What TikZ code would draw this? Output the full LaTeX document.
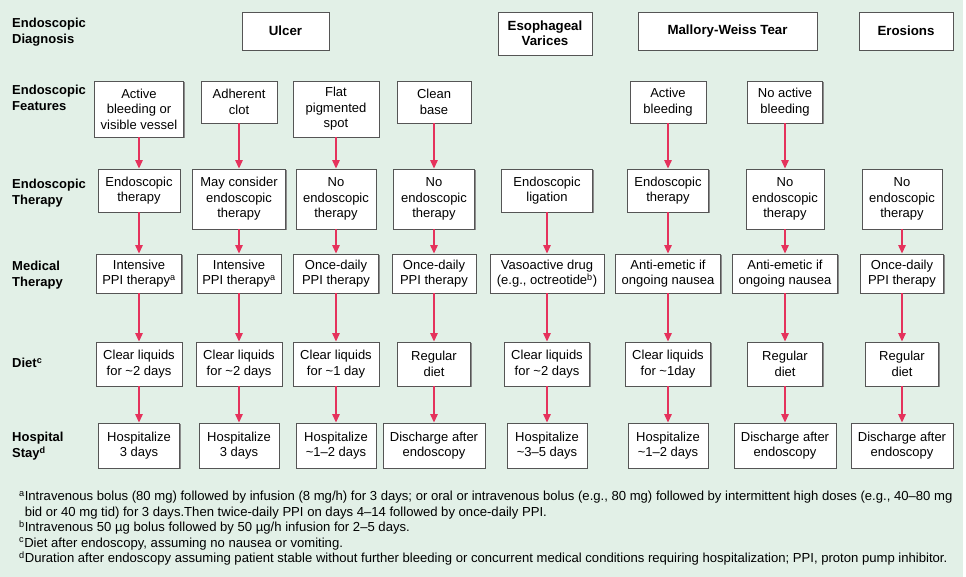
\documentclass[tikz,border=0pt]{standalone}
\usepackage{fontspec}
\setmainfont{Liberation Sans}
\newfontfamily\notefont[Ligatures=TeX]{Liberation Sans}
\usetikzlibrary{arrows.meta,shadows}
\definecolor{bggreen}{RGB}{226,240,231}
\definecolor{arrowred}{RGB}{229,50,92}
\definecolor{boxline}{RGB}{85,85,85}

\begin{document}
\begin{tikzpicture}[
  x=1pt,
  y=-1pt,
  >={Triangle[width=7.5pt,length=8.5pt]},
  every node/.style={font=\fontsize{13}{15.5}\selectfont},
  cell/.style={draw=boxline, line width=0.9pt, fill=white, rectangle, align=center, inner sep=1pt,
    drop shadow={shadow xshift=1.3pt, shadow yshift=-1.3pt, fill=black!45, opacity=1}},
  head/.style={cell, font=\fontsize{13.3}{15.5}\selectfont\bfseries},
  rowlabel/.style={anchor=west, align=left, inner sep=0pt, font=\fontsize{13}{16}\selectfont\bfseries},
  flow/.style={->, draw=arrowred, line width=1.3pt, fill=arrowred}
]
\useasboundingbox (0,0) rectangle (966,577);
\fill[bggreen] (0,0) rectangle (963,577);

% row labels
\node[rowlabel] (lDiag) at (12,32.5) {Endoscopic\\Diagnosis};
\node[rowlabel] (lFeat) at (12,98) {Endoscopic\\Features};
\node[rowlabel] (lTher) at (12,193.5) {Endoscopic\\Therapy};
\node[rowlabel] (lMed) at (12,275) {Medical\\Therapy};
\node[rowlabel] (lDiet) at (12,363) {Diet\textsuperscript{c}};
\node[rowlabel] (lStay) at (12,446) {Hospital\\Stay\textsuperscript{d}};

% diagnosis
\node[head, minimum width=87, minimum height=38] (ulcer) at (285.5,31) {Ulcer};
\node[head, minimum width=94, minimum height=43] (varices) at (545,33.5) {Esophageal\\Varices};
\node[head, minimum width=179, minimum height=38] (mwt) at (727.5,31) {Mallory-Weiss Tear};
\node[head, minimum width=94, minimum height=38] (erosions) at (906,31) {Erosions};

% features
\node[cell, minimum width=89, minimum height=56] (feat1) at (139,109) {Active\\bleeding or\\visible vessel};
\node[cell, minimum width=76, minimum height=42] (feat2) at (239,102) {Adherent\\clot};
\node[cell, minimum width=86, minimum height=56] (feat3) at (336,109) {Flat\\pigmented\\spot};
\node[cell, minimum width=74, minimum height=42] (feat4) at (434,102) {Clean\\base};
\node[cell, minimum width=76, minimum height=42] (feat6) at (668,102) {Active\\bleeding};
\node[cell, minimum width=75, minimum height=42] (feat7) at (785,102) {No active\\bleeding};

% endoscopic therapy
\node[cell, minimum width=82, minimum height=43] (ther1) at (139,190.5) {Endoscopic\\therapy};
\node[cell, minimum width=93, minimum height=60] (ther2) at (239,199) {May consider\\endoscopic\\therapy};
\node[cell, minimum width=80, minimum height=60] (ther3) at (336,199) {No\\endoscopic\\therapy};
\node[cell, minimum width=81, minimum height=60] (ther4) at (434,199) {No\\endoscopic\\therapy};
\node[cell, minimum width=91, minimum height=43] (ther5) at (547,190.5) {Endoscopic\\ligation};
\node[cell, minimum width=81, minimum height=43] (ther6) at (668,190.5) {Endoscopic\\therapy};
\node[cell, minimum width=78, minimum height=60] (ther7) at (785,199) {No\\endoscopic\\therapy};
\node[cell, minimum width=80, minimum height=60] (ther8) at (902,199) {No\\endoscopic\\therapy};

% medical therapy
\node[cell, minimum width=85, minimum height=39] (med1) at (139,273.5) {Intensive\\PPI therapy\textsuperscript{a}};
\node[cell, minimum width=84, minimum height=39] (med2) at (239,273.5) {Intensive\\PPI therapy\textsuperscript{a}};
\node[cell, minimum width=85, minimum height=39] (med3) at (336,273.5) {Once-daily\\PPI therapy};
\node[cell, minimum width=84, minimum height=39] (med4) at (434,273.5) {Once-daily\\PPI therapy};
\node[cell, minimum width=114, minimum height=39] (med5) at (547,273.5) {Vasoactive drug\\(e.g., octreotide\textsuperscript{b})};
\node[cell, minimum width=105, minimum height=39] (med6) at (668,273.5) {Anti-emetic if\\ongoing nausea};
\node[cell, minimum width=105, minimum height=39] (med7) at (785,273.5) {Anti-emetic if\\ongoing nausea};
\node[cell, minimum width=83, minimum height=39] (med8) at (902,273.5) {Once-daily\\PPI therapy};

% diet
\node[cell, minimum width=86, minimum height=44] (diet1) at (139,364) {Clear liquids\\for \textasciitilde2 days};
\node[cell, minimum width=86, minimum height=44] (diet2) at (239,364) {Clear liquids\\for \textasciitilde2 days};
\node[cell, minimum width=86, minimum height=44] (diet3) at (336,364) {Clear liquids\\for \textasciitilde1 day};
\node[cell, minimum width=73, minimum height=44] (diet4) at (434,364) {Regular\\diet};
\node[cell, minimum width=85, minimum height=44] (diet5) at (547,364) {Clear liquids\\for \textasciitilde2 days};
\node[cell, minimum width=85, minimum height=44] (diet6) at (668,364) {Clear liquids\\for \textasciitilde1day};
\node[cell, minimum width=75, minimum height=44] (diet7) at (785,364) {Regular\\diet};
\node[cell, minimum width=73, minimum height=44] (diet8) at (902,364) {Regular\\diet};

% hospital stay
\node[cell, minimum width=81, minimum height=45] (stay1) at (139,445.5) {Hospitalize\\3 days};
\node[cell, minimum width=80, minimum height=45] (stay2) at (239,445.5) {Hospitalize\\3 days};
\node[cell, minimum width=80, minimum height=45] (stay3) at (336,445.5) {Hospitalize\\\textasciitilde1--2 days};
\node[cell, minimum width=102, minimum height=45] (stay4) at (434,445.5) {Discharge after\\endoscopy};
\node[cell, minimum width=80, minimum height=45] (stay5) at (547,445.5) {Hospitalize\\\textasciitilde3--5 days};
\node[cell, minimum width=80, minimum height=45] (stay6) at (668,445.5) {Hospitalize\\\textasciitilde1--2 days};
\node[cell, minimum width=102, minimum height=45] (stay7) at (785,445.5) {Discharge after\\endoscopy};
\node[cell, minimum width=102, minimum height=45] (stay8) at (902,445.5) {Discharge after\\endoscopy};

% arrows
\draw[flow] (feat1) -- (ther1);
\draw[flow] (feat2) -- (ther2);
\draw[flow] (feat3) -- (ther3);
\draw[flow] (feat4) -- (ther4);
\draw[flow] (feat6) -- (ther6);
\draw[flow] (feat7) -- (ther7);
\draw[flow] (ther1) -- (med1);
\draw[flow] (ther2) -- (med2);
\draw[flow] (ther3) -- (med3);
\draw[flow] (ther4) -- (med4);
\draw[flow] (ther5) -- (med5);
\draw[flow] (ther6) -- (med6);
\draw[flow] (ther7) -- (med7);
\draw[flow] (ther8) -- (med8);
\draw[flow] (med1) -- (diet1);
\draw[flow] (med2) -- (diet2);
\draw[flow] (med3) -- (diet3);
\draw[flow] (med4) -- (diet4);
\draw[flow] (med5) -- (diet5);
\draw[flow] (med6) -- (diet6);
\draw[flow] (med7) -- (diet7);
\draw[flow] (med8) -- (diet8);
\draw[flow] (diet1) -- (stay1);
\draw[flow] (diet2) -- (stay2);
\draw[flow] (diet3) -- (stay3);
\draw[flow] (diet4) -- (stay4);
\draw[flow] (diet5) -- (stay5);
\draw[flow] (diet6) -- (stay6);
\draw[flow] (diet7) -- (stay7);
\draw[flow] (diet8) -- (stay8);

% footnotes
\node[anchor=north west, align=left, inner sep=0pt, font=\notefont\fontsize{13.1}{15.5}\selectfont] (notes) at (19,491)
  {\textsuperscript{a}Intravenous bolus (80 mg) followed by infusion (8 mg/h) for 3 days; or oral or intravenous bolus (e.g., 80 mg) followed by intermittent high doses (e.g., 40--80 mg\\
   \hphantom{\textsuperscript{a}}bid or 40 mg tid) for 3 days.Then twice-daily PPI on days 4--14 followed by once-daily PPI.\\
   \textsuperscript{b}Intravenous 50 µg bolus followed by 50 µg/h infusion for 2--5 days.\\
   \textsuperscript{c}Diet after endoscopy, assuming no nausea or vomiting.\\
   \textsuperscript{d}Duration after endoscopy assuming patient stable without further bleeding or concurrent medical conditions requiring hospitalization; PPI, proton pump inhibitor.};
\end{tikzpicture}
\end{document}
